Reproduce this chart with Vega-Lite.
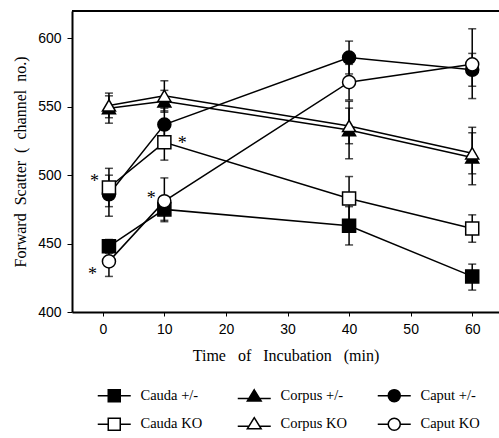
{
  "$schema": "https://vega.github.io/schema/vega-lite/v6.json",
  "autosize": {"type": "none"},
  "padding": {"left": 72, "top": 11, "right": 0, "bottom": 126},
  "width": 427,
  "height": 301,
  "config": {
    "view": {"stroke": null},
    "font": "Liberation Serif",
    "axis": {
      "grid": false,
      "labelFont": "Liberation Sans", "labelFontSize": 14, "labelColor": "black",
      "tickColor": "black", "tickWidth": 1,
      "domainColor": "black", "domainWidth": 2,
      "labelPadding": 6,
      "titleFont": "Liberation Serif", "titleFontSize": 16, "titleFontWeight": "normal",
      "titleColor": "black"
    },
    "axisX": {"tickSize": 4, "titlePadding": 11},
    "axisY": {"tickSize": 5, "titlePadding": 9},
    "legend": {
      "orient": "none",
      "legendX": 35,
      "legendY": 377,
      "columns": 3,
      "direction": "horizontal",
      "gridAlign": "all",
      "columnPadding": 27,
      "rowPadding": 9,
      "labelOffset": 19,
      "padding": 0,
      "labelFont": "Liberation Serif",
      "labelFontSize": 14.5,
      "labelColor": "black",
      "labelLimit": 200,
      "symbolSize": 144,
      "symbolStrokeWidth": 1.5,
      "symbolOpacity": 1
    }
  },
  "resolve": {"scale": {"shape": "independent", "fill": "independent"}},
  "datasets": {
    "pts": [
      {"s": "Cauda +/-", "t": 1, "y": 448, "lo": 443, "hi": 453},
      {"s": "Cauda +/-", "t": 10, "y": 475, "lo": 467, "hi": 483},
      {"s": "Cauda +/-", "t": 40, "y": 463, "lo": 449, "hi": 477},
      {"s": "Cauda +/-", "t": 60, "y": 426, "lo": 416, "hi": 435},
      {"s": "Corpus +/-", "t": 1, "y": 549, "lo": 538, "hi": 558},
      {"s": "Corpus +/-", "t": 10, "y": 554, "lo": 546, "hi": 562},
      {"s": "Corpus +/-", "t": 40, "y": 533, "lo": 512, "hi": 554},
      {"s": "Corpus +/-", "t": 60, "y": 513, "lo": 493, "hi": 535},
      {"s": "Caput +/-", "t": 1, "y": 486, "lo": 470, "hi": 500},
      {"s": "Caput +/-", "t": 10, "y": 537, "lo": 525, "hi": 549},
      {"s": "Caput +/-", "t": 40, "y": 586, "lo": 574, "hi": 598},
      {"s": "Caput +/-", "t": 60, "y": 577, "lo": 565, "hi": 589},
      {"s": "Cauda KO", "t": 1, "y": 491, "lo": 477, "hi": 505},
      {"s": "Cauda KO", "t": 10, "y": 524, "lo": 511, "hi": 537},
      {"s": "Cauda KO", "t": 40, "y": 483, "lo": 467, "hi": 499},
      {"s": "Cauda KO", "t": 60, "y": 461, "lo": 451, "hi": 471},
      {"s": "Corpus KO", "t": 1, "y": 551, "lo": 542, "hi": 560},
      {"s": "Corpus KO", "t": 10, "y": 558, "lo": 547, "hi": 569},
      {"s": "Corpus KO", "t": 40, "y": 536, "lo": 523, "hi": 549},
      {"s": "Corpus KO", "t": 60, "y": 516, "lo": 501, "hi": 531},
      {"s": "Caput KO", "t": 1, "y": 437, "lo": 426, "hi": 448},
      {"s": "Caput KO", "t": 10, "y": 481, "lo": 466, "hi": 498},
      {"s": "Caput KO", "t": 40, "y": 568, "lo": 555, "hi": 581},
      {"s": "Caput KO", "t": 60, "y": 581, "lo": 556, "hi": 607}
    ],
    "stars": [
      {"t": -1.35, "y": 495.2, "label": "*"},
      {"t": -1.67, "y": 426.7, "label": "*"},
      {"t": 12.9, "y": 523, "label": "*"},
      {"t": 7.86, "y": 482.8, "label": "*"}
    ]
  },
  "layer": [
    {
      "data": {"name": "pts"},
      "mark": {"type": "line", "color": "black", "strokeWidth": 1.5},
      "encoding": {
        "x": {
          "field": "t", "type": "quantitative",
          "title": "Time\u00a0\u00a0 of\u00a0\u00a0 Incubation\u00a0\u00a0 (min)",
          "scale": {"domain": [-5, 64.35], "nice": false, "zero": false},
          "axis": {"values": [0, 10, 20, 30, 40, 50, 60]}
        },
        "y": {
          "field": "y", "type": "quantitative",
          "title": "Forward\u00a0 Scatter\u00a0 (\u00a0 channel\u00a0 no.)",
          "scale": {"domain": [400, 620], "nice": false, "zero": false},
          "axis": {"values": [400, 450, 500, 550, 600]}
        },
        "detail": {"field": "s"},
        "order": {"field": "t", "type": "quantitative"}
      }
    },
    {
      "data": {"name": "pts"},
      "mark": {"type": "rule", "color": "black", "strokeWidth": 1.5},
      "encoding": {
        "x": {"field": "t", "type": "quantitative", "title": "Time\u00a0\u00a0 of\u00a0\u00a0 Incubation\u00a0\u00a0 (min)"},
        "y": {"field": "lo", "type": "quantitative", "title": "Forward\u00a0 Scatter\u00a0 (\u00a0 channel\u00a0 no.)"},
        "y2": {"field": "hi"}
      }
    },
    {
      "data": {"name": "pts"},
      "mark": {"type": "tick", "orient": "horizontal", "color": "black", "thickness": 1.5, "size": 8},
      "encoding": {
        "x": {"field": "t", "type": "quantitative", "title": "Time\u00a0\u00a0 of\u00a0\u00a0 Incubation\u00a0\u00a0 (min)"},
        "y": {"field": "lo", "type": "quantitative", "title": "Forward\u00a0 Scatter\u00a0 (\u00a0 channel\u00a0 no.)"}
      }
    },
    {
      "data": {"name": "pts"},
      "mark": {"type": "tick", "orient": "horizontal", "color": "black", "thickness": 1.5, "size": 8},
      "encoding": {
        "x": {"field": "t", "type": "quantitative", "title": "Time\u00a0\u00a0 of\u00a0\u00a0 Incubation\u00a0\u00a0 (min)"},
        "y": {"field": "hi", "type": "quantitative", "title": "Forward\u00a0 Scatter\u00a0 (\u00a0 channel\u00a0 no.)"}
      }
    },
    {
      "data": {"name": "pts"},
      "mark": {"type": "point", "filled": true, "opacity": 1, "stroke": "black", "strokeWidth": 1.5, "size": 170},
      "encoding": {
        "x": {"field": "t", "type": "quantitative", "title": "Time\u00a0\u00a0 of\u00a0\u00a0 Incubation\u00a0\u00a0 (min)"},
        "y": {"field": "y", "type": "quantitative", "title": "Forward\u00a0 Scatter\u00a0 (\u00a0 channel\u00a0 no.)"},
        "shape": {
          "field": "s", "type": "nominal",
          "scale": {
            "domain": ["Cauda +/-", "Corpus +/-", "Caput +/-", "Cauda KO", "Corpus KO", "Caput KO"],
            "range": ["square", "triangle-up", "circle", "square", "triangle-up", "circle"]
          },
          "legend": null
        },
        "fill": {
          "field": "s", "type": "nominal",
          "scale": {
            "domain": ["Cauda +/-", "Corpus +/-", "Caput +/-", "Cauda KO", "Corpus KO", "Caput KO"],
            "range": ["black", "black", "black", "white", "white", "white"]
          },
          "legend": null
        }
      }
    },
    {
      "data": {"name": "pts"},
      "transform": [{"filter": "false"}],
      "mark": {"type": "point", "filled": true, "opacity": 1, "stroke": "black", "strokeWidth": 1.5, "size": 144},
      "encoding": {
        "x": {"field": "t", "type": "quantitative", "title": "Time\u00a0\u00a0 of\u00a0\u00a0 Incubation\u00a0\u00a0 (min)"},
        "y": {"field": "y", "type": "quantitative", "title": "Forward\u00a0 Scatter\u00a0 (\u00a0 channel\u00a0 no.)"},
        "shape": {
          "field": "s", "type": "nominal", "title": null,
          "scale": {
            "domain": ["Cauda +/-", "Corpus +/-", "Caput +/-", "Cauda KO", "Corpus KO", "Caput KO"],
            "range": [
              "M-2.75,0H-1M1,0H2.75M-1,-1H1V1H-1Z",
              "M-2.75,0.35H-0.9M0.9,0.35H2.75M0,-1.1L1.15,0.75H-1.15Z",
              "M-2.75,0H-1M1,0H2.75M-1,0A1,1,0,1,1,1,0A1,1,0,1,1,-1,0Z",
              "M-2.75,0H-1M1,0H2.75M-1,-1H1V1H-1Z",
              "M-2.75,0.35H-0.9M0.9,0.35H2.75M0,-1.1L1.15,0.75H-1.15Z",
              "M-2.75,0H-1M1,0H2.75M-1,0A1,1,0,1,1,1,0A1,1,0,1,1,-1,0Z"
            ]
          }
        },
        "fill": {
          "field": "s", "type": "nominal", "title": null,
          "scale": {
            "domain": ["Cauda +/-", "Corpus +/-", "Caput +/-", "Cauda KO", "Corpus KO", "Caput KO"],
            "range": ["black", "black", "black", "white", "white", "white"]
          }
        }
      }
    },
    {
      "data": {"name": "stars"},
      "mark": {"type": "text", "font": "Liberation Serif", "fontSize": 18, "color": "black", "baseline": "middle", "align": "center"},
      "encoding": {
        "x": {"field": "t", "type": "quantitative", "title": "Time\u00a0\u00a0 of\u00a0\u00a0 Incubation\u00a0\u00a0 (min)"},
        "y": {"field": "y", "type": "quantitative", "title": "Forward\u00a0 Scatter\u00a0 (\u00a0 channel\u00a0 no.)"},
        "text": {"field": "label"}
      }
    },
    {
      "data": {"name": "stars"},
      "mark": {"type": "rule", "color": "black", "strokeWidth": 1.5},
      "encoding": {
        "x": {"datum": -5, "type": "quantitative", "title": "Time\u00a0\u00a0 of\u00a0\u00a0 Incubation\u00a0\u00a0 (min)"},
        "x2": {"datum": 64.35},
        "y": {"datum": 620, "type": "quantitative", "title": "Forward\u00a0 Scatter\u00a0 (\u00a0 channel\u00a0 no.)"}
      }
    }
  ]
}
